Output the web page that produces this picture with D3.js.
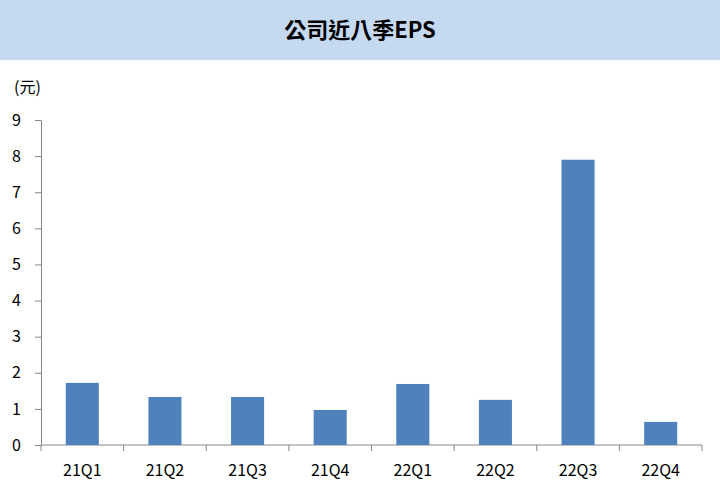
<!DOCTYPE html>
<html><head><meta charset="utf-8">
<script src="https://cdn.jsdelivr.net/npm/d3@7"></script>
<style>body{margin:0;background:#fff}</style>
</head><body>
<svg width="720" height="495"></svg>
<script>
const quarters = ["21Q1","21Q2","21Q3","21Q4","22Q1","22Q2","22Q3","22Q4"];
const eps = [1.72, 1.33, 1.33, 0.97, 1.69, 1.25, 7.9, 0.64];
const yTicks = [0,1,2,3,4,5,6,7,8,9];

const svg = d3.select("svg");
const font = "'Noto Sans CJK TC', 'Noto Sans', sans-serif";

//Title band
svg.append("rect").attr("x",0).attr("y",0).attr("width",720).attr("height",60).attr("fill","#c5d9f1");
svg.append("text").attr("x",360).attr("y",38).attr("text-anchor","middle")
    .attr("font-family",font).attr("font-size",22).attr("font-weight","bold").attr("fill","#000")
    .text("公司近八季EPS");

svg.append("text").attr("x",14).attr("y",93).attr("font-family",font).attr("font-size",16).text("(元)");

//Scales
const x = d3.scaleBand().domain(quarters).range([41, 702]).paddingInner(0.6).paddingOuter(0.3);
const xEdge = d3.scaleLinear().domain([0, quarters.length]).range([41, 702]);
const y = d3.scaleLinear().domain([0, 9]).range([445, 120]);

//Y axis
const yg = svg.append("g").attr("transform","translate(41,0)")
    .call(d3.axisLeft(y).tickValues(yTicks).tickSize(6).tickSizeOuter(0));
yg.select(".domain").attr("stroke","#868686");
yg.selectAll("line").attr("stroke","#868686");
yg.selectAll("text").attr("font-family",font).attr("font-size",16).attr("fill","#000").attr("x",-20);

//X axis
svg.append("line").attr("x1",41).attr("x2",702).attr("y1",y(0)).attr("y2",y(0)).attr("stroke","#868686");
svg.append("g").selectAll("line").data(d3.range(quarters.length + 1)).enter().append("line")
    .attr("x1", d => xEdge(d)).attr("x2", d => xEdge(d))
    .attr("y1", y(0)).attr("y2", y(0) + 6).attr("stroke","#868686");
svg.append("g").selectAll("text").data(quarters).enter().append("text")
    .attr("x", d => x(d) + x.bandwidth()/2).attr("y", 476).attr("text-anchor","middle")
    .attr("font-family",font).attr("font-size",16).text(d => d);

//Bars
svg.append("g").selectAll("rect").data(eps).enter().append("rect")
    .attr("x", (d,i) => x(quarters[i]))
    .attr("y", d => y(d))
    .attr("width", x.bandwidth())
    .attr("height", d => y(0) - y(d))
    .attr("fill","#4f81bd");
</script>
</body></html>
